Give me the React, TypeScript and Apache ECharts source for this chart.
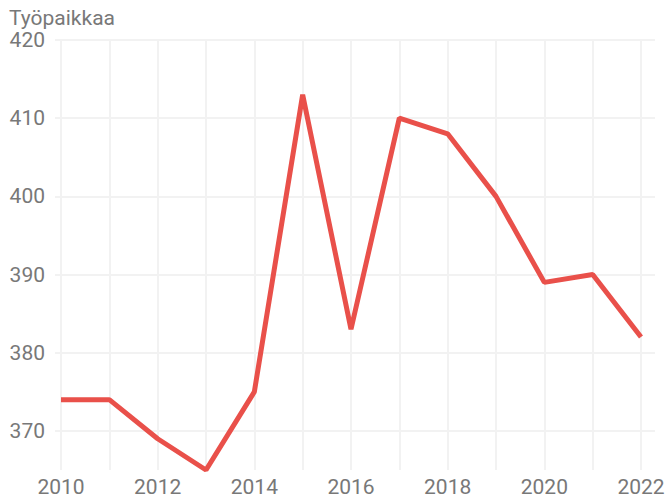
import React, { useEffect, useRef } from "react";
import * as echarts from "echarts";

const years = [2010, 2011, 2012, 2013, 2014, 2015, 2016, 2017, 2018, 2019, 2020, 2021, 2022];
const jobs = [374, 374, 369, 365, 375, 413, 383, 410, 408, 400, 389, 390, 382];
const yTitle = "Työpaikkaa";

export default function App() {
  const ref = useRef<HTMLDivElement>(null);
  useEffect(() => {
    if (!ref.current) return;
    const chart = echarts.init(ref.current, null, { renderer: "svg" });
    const font = "Roboto";
    const fs = 21;
    const grey = "#787878";
    const gridColor = "#f2f2f2";
    chart.setOption({
      animation: false,
      backgroundColor: "#ffffff",
      textStyle: { fontFamily: font },
      graphic: [
        {
          type: "text",
          left: 9,
          top: 7,
          style: { text: yTitle, fill: grey, font: `${fs}px ${font}` },
        },
      ],
      grid: [
        { left: 61, right: 27, top: 40, bottom: 29, containLabel: false },
        { left: 55, right: 13, top: 40, bottom: 29, containLabel: false },
      ],
      xAxis: [
        {
          type: "value",
          gridIndex: 0,
          min: 2010,
          max: 2022,
          interval: 1,
          axisLine: { show: false },
          axisTick: { show: false },
          axisLabel: {
            color: grey,
            fontSize: fs,
            fontFamily: font,
            margin: 6,
            formatter: (v: number) => (v % 2 === 0 ? String(v) : ""),
          },
          splitLine: { show: true, lineStyle: { color: gridColor, width: 2 } },
        },
        {
          type: "value",
          gridIndex: 1,
          min: 0,
          max: 1,
          show: false,
        },
      ],
      yAxis: [
        {
          type: "value",
          gridIndex: 0,
          min: 365,
          max: 420,
          show: false,
        },
        {
          type: "value",
          gridIndex: 1,
          min: 365,
          max: 420,
          interval: 5,
          axisLine: { show: false },
          axisTick: { show: false },
          axisLabel: {
            color: grey,
            fontSize: fs,
            fontFamily: font,
            margin: 10,
            formatter: (v: number) => (v % 10 === 0 ? String(v) : ""),
          },
          splitLine: {
            show: true,
            lineStyle: { color: ["rgba(0,0,0,0)", gridColor], width: 2 },
          },
        },
      ],
      series: [
        {
          type: "line",
          xAxisIndex: 0,
          yAxisIndex: 0,
          data: years.map((y, i) => [y, jobs[i]]),
          showSymbol: false,
          symbol: "none",
          lineStyle: { color: "#e9504a", width: 5 },
          clip: false,
        },
      ],
    });
    return () => chart.dispose();
  }, []);
  return <div ref={ref} style={{ width: 668, height: 499, position: "absolute", left: 0, top: 0 }} />;
}
